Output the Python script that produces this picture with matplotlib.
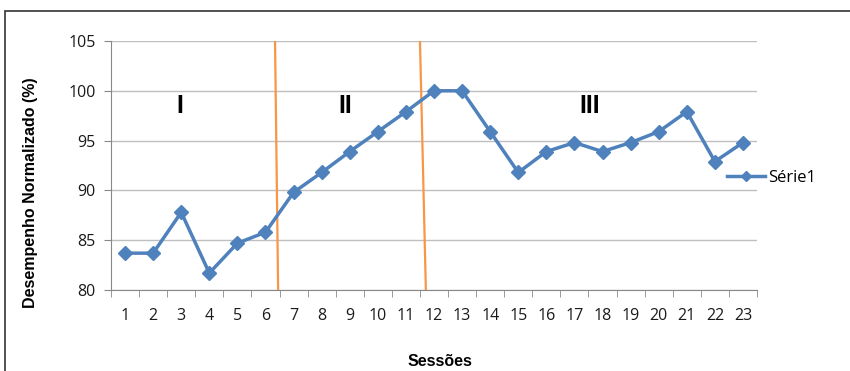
import matplotlib.pyplot as plt
from matplotlib.patches import Rectangle

# session numbers and normalised performance (%)
sessoes = list(range(1, 24))
desempenho = [83.7, 83.7, 87.8, 81.7, 84.7, 85.8, 89.8, 91.8, 93.9, 95.9, 97.9, 100.0,
              100.0, 95.9, 91.8, 93.9, 94.8, 93.9, 94.8, 95.9, 97.9, 92.9, 94.8]
fases = ["I", "II", "III"]
fase_x = [2.96, 8.83, 17.55]
# phase separators (x at top, x at bottom)
sep_top = [6.34, 11.50]
sep_bottom = [6.45, 11.71]

blue = "#4F81BD"
orange = "#F79646"
grid_gray = "#BFBFBF"

fig = plt.figure(figsize=(8.5, 3.71), dpi=100)
ax = fig.add_axes([0.1306, 0.2183, 0.76, 0.6712])

# outer frame of the original picture
fig.patches.append(Rectangle((5 / 850, -0.1), 1.0, (371 - 11) / 371 + 0.1,
                             transform=fig.transFigure, fill=False,
                             edgecolor="#333333", linewidth=1.2))

ax.plot(sessoes, desempenho, color=blue, linewidth=2.5, marker="D",
        markersize=7, label="Série1", zorder=3)

for xt, xb in zip(sep_top, sep_bottom):
    ax.plot([xt, xb], [105, 80], color=orange, linewidth=1.6, zorder=2)

for label, x in zip(fases, fase_x):
    ax.text(x, 98.5, label, fontsize=18, fontweight="bold",
            family="Liberation Sans", ha="center", va="center")

ax.set_xlim(0.5, 23.5)
ax.set_ylim(80, 105)
ax.set_yticks(range(80, 106, 5))
ax.set_xticks(sessoes)
ax.set_xticks([i + 0.5 for i in range(0, 24)], minor=True)
ax.tick_params(axis="x", which="major", length=0, pad=13, labelsize=11.5)
ax.tick_params(axis="x", which="minor", length=5, color="#888888", direction="out")
ax.tick_params(axis="y", length=5, color="#888888", pad=6, labelsize=11.5)
for lab in ax.get_xticklabels() + ax.get_yticklabels():
    lab.set_family("Open Sans")
    lab.set_color("#1a1a1a")

ax.grid(axis="y", color=grid_gray, linewidth=1.0)
ax.set_axisbelow(True)
for side in ["top", "right"]:
    ax.spines[side].set_visible(False)
ax.spines["left"].set_color("#888888")
ax.spines["bottom"].set_color("#888888")

fig.text(31 / 850, 1 - 193 / 371, "Desempenho Normalizado (%)", fontsize=11.5,
         fontweight="bold", family="Liberation Sans", rotation=90,
         ha="center", va="center")
fig.text(440 / 850, 1 - 362 / 371, "Sessões", fontsize=11.5, fontweight="bold",
         family="Liberation Sans", ha="center", va="center")

leg = ax.legend(loc="center left", bbox_to_anchor=((727 - 111) / 646, (290 - 178) / 249),
                frameon=False, borderaxespad=0, borderpad=0,
                handlelength=2.3, handletextpad=0.15,
                prop={"family": "Open Sans", "size": 12})
for h in leg.legend_handles:
    h.set_markersize(5.5)

fig.savefig("out.png", dpi=100)
